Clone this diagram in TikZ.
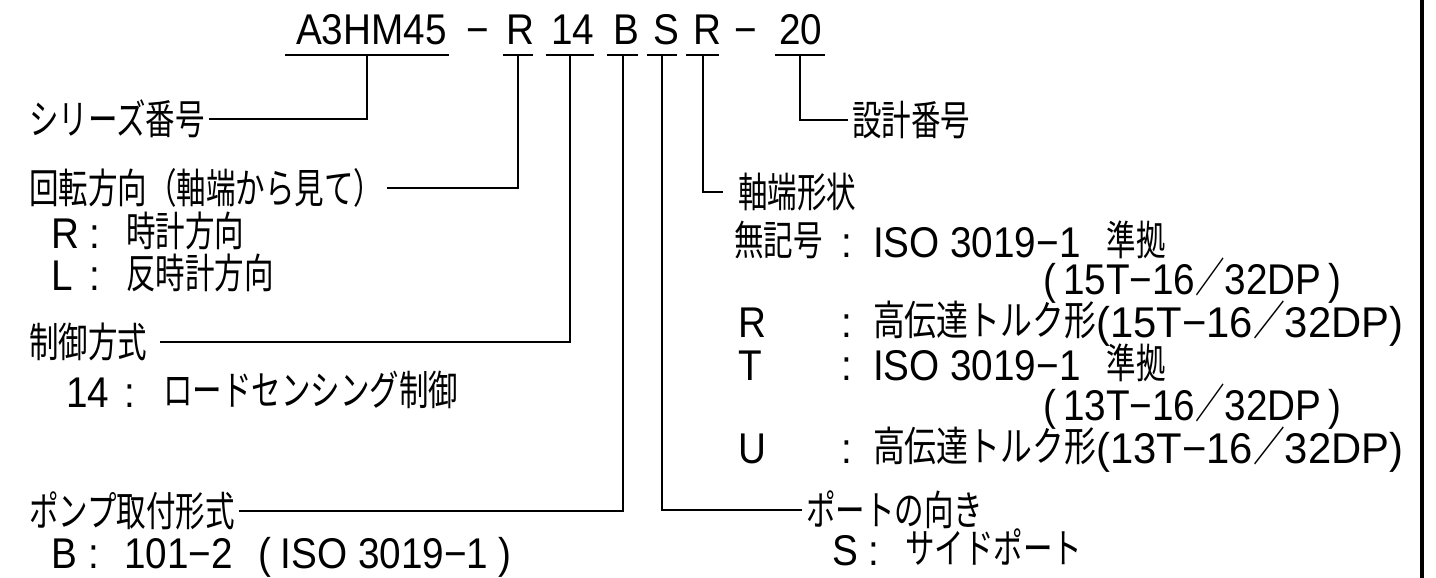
\documentclass[tikz,border=0pt]{standalone}
\usepackage{fontspec}
\setmainfont[FakeStretch=0.9]{Liberation Sans}
\newfontfamily\jpfont[FakeStretch=0.72]{Noto Sans CJK JP}
\newcommand{\jtext}[1]{{\jpfont\fontsize{41}{46}\selectfont\raisebox{1.5pt}{#1}}}
\tikzset{
  txt/.style={inner sep=0pt, anchor=base west},
  head/.style={inner sep=3pt, anchor=west},
}
\begin{document}
\begin{tikzpicture}[x=1pt, y=-1pt, font=\fontsize{43}{50}\selectfont, line width=2pt]
	\useasboundingbox (0,0) rectangle (1436,578);
	% model code
	\node[txt] (code)  at (295,45) {A3HM45};
	\node[txt] (dash1) at (465,45) {−};
	\node[txt] (cRot)  at (505,45) {R};
	\node[txt] (cCtrl) at (550,45) {14};
	\node[txt] (cMnt)  at (612,45) {B};
	\node[txt] (cPort) at (652,45) {S};
	\node[txt] (cShft) at (692,45) {R};
	\node[txt] (dash2) at (733,45) {−};
	\node[txt] (cDsgn) at (778,45) {20};
	\draw (285,55) -- coordinate (uSeries) (449,55);
	\draw (503,55) -- coordinate (uRot) (533,55);
	\draw (546,55) -- coordinate (uCtrl) (594,55);
	\draw (607,55) -- coordinate (uMount) (638,55);
	\draw (647,55) -- coordinate (uPort) (677,55);
	\draw (686,55) -- coordinate (uShaft) (719,55);
	\draw (775,55) -- coordinate (uDesign) (825,55);

	% left column
	\node[head] (series) at (25,119) {\jtext{シリーズ番号}};
	\node[head] (rotdir) at (25,188) {\jtext{回転方向（軸端から見て）}};
	\node[txt] (rotR)  at (50,248)  {R};
	\node[txt] (rotRc) at (88,248)  {:};
	\node[txt] (rotRt) at (125,248) {\jtext{時計方向}};
	\node[txt] (rotL)  at (50,290)  {L};
	\node[txt] (rotLc) at (88,290)  {:};
	\node[txt] (rotLt) at (125,290) {\jtext{反時計方向}};
	\node[head] (ctrl) at (25,342) {\jtext{制御方式}};
	\node[txt] (ctrl14)  at (65,407)  {14};
	\node[txt] (ctrl14c) at (123,407) {:};
	\node[txt] (ctrl14t) at (162,407) {\jtext{ロードセンシング制御}};
	\node[head] (mount) at (25,511) {\jtext{ポンプ取付形式}};
	\node[txt] (mntB)  at (50,568)  {B};
	\node[txt] (mntBc) at (87,568)  {:};
	\node[txt] (mntBt) at (123,568) {101−2};
	\node[txt] (mntBs) at (257,568) {(\hspace{10pt}ISO 3019−1\hspace{10pt})};

	% right column
	\node[head] (design) at (848,120) {\jtext{設計番号}};
	\node[head] (shaft) at (734,192) {\jtext{軸端形状}};
	\node[txt] (shN)   at (733,257)  {\jtext{無記号}};
	\node[txt] (shNc)  at (840,257)  {:};
	\node[txt] (shNt)  at (872,257)  {ISO 3019−1\hspace{26pt}\jtext{準拠}};
	\node[txt] (shNp)  at (1042,294) {(\,15T−16\jtext{／}32DP\,)};
	\node[txt] (shR)   at (737,337)  {R};
	\node[txt] (shRc)  at (840,337)  {:};
	\node[txt] (shRt)  at (872,337)  {\scalebox{1.08}[1]{\jtext{高伝達トルク形}(15T−16\jtext{／}32DP)}};
	\node[txt] (shT)   at (737,380)  {T};
	\node[txt] (shTc)  at (840,380)  {:};
	\node[txt] (shTt)  at (872,380)  {ISO 3019−1\hspace{26pt}\jtext{準拠}};
	\node[txt] (shTp)  at (1042,420) {(\,13T−16\jtext{／}32DP\,)};
	\node[txt] (shU)   at (737,463)  {U};
	\node[txt] (shUc)  at (840,463)  {:};
	\node[txt] (shUt)  at (872,463)  {\scalebox{1.08}[1]{\jtext{高伝達トルク形}(13T−16\jtext{／}32DP)}};
	\node[head] (port) at (802,510) {\jtext{ポートの向き}};
	\node[txt] (portS)  at (831,565) {S};
	\node[txt] (portSc) at (867,565) {:};
	\node[txt] (portSt) at (904,565) {\jtext{サイドポート}};

	% leaders
	\draw (uSeries) |- (series.east);
	\draw (uRot) |- (rotdir.east);
	\draw[shorten >=9pt] (uCtrl) |- (ctrl.east);
	\draw (uMount) |- (mount.east);
	\draw (uPort) |- (port.west);
	\draw[shorten >=11pt] (uShaft) |- (shaft.west);
	\draw (uDesign) |- (design.west);

	\draw[line width=4pt] (1422,0) -- (1422,578);
\end{tikzpicture}
\end{document}
